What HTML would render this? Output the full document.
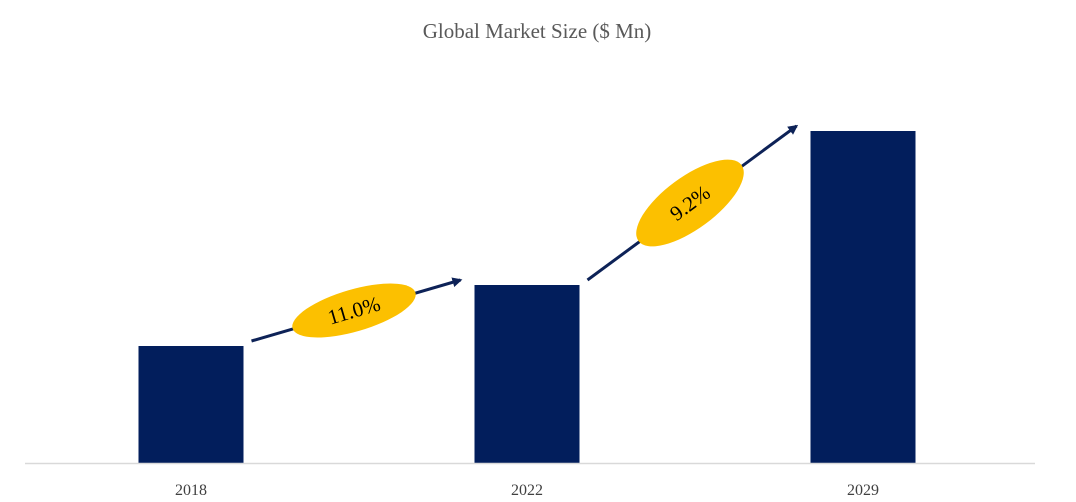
<!DOCTYPE html>
<html><head><meta charset="utf-8"><style>
body{margin:0;background:#fff;width:1076px;height:502px;overflow:hidden}
svg{display:block}
</style></head><body>
<svg width="1076" height="502">
<defs><marker id="ah" markerWidth="10" markerHeight="10" refX="8" refY="5" orient="auto" markerUnits="userSpaceOnUse"><path d="M0,0 L10,5 L0,10 z" fill="#0d2257"/></marker></defs>
<text x="537" y="38" text-anchor="middle" font-family="Liberation Serif, serif" font-size="21" fill="#595959">Global Market Size ($ Mn)</text>
<g id="bars"></g>
<line x1="25" y1="463.5" x2="1035" y2="463.5" stroke="#d9d9d9" stroke-width="1.5"/>
<g id="cagr"></g>
</svg>
<script>
const categories=["2018","2022","2029"];
const values=[117,178,332];
const cagrLabels=["11.0%","9.2%"];
const svg=document.querySelector('svg');
const NS="http://www.w3.org/2000/svg";
const baseY=463, plotLeft=25, slotW=336, barW=105;
function xCenter(i){return plotLeft+slotW*i+slotW/2-2;}
function yScale(v){return baseY-v*1.0;}
const gb=document.getElementById('bars');
categories.forEach((c,i)=>{
  const r=document.createElementNS(NS,'rect');
  r.setAttribute('x',xCenter(i)-barW/2);r.setAttribute('y',yScale(values[i]));
  r.setAttribute('width',barW);r.setAttribute('height',baseY-yScale(values[i]));
  r.setAttribute('fill','#021e5c');
  
  
  gb.appendChild(r);
  const t=document.createElementNS(NS,'text');
  t.setAttribute('x',xCenter(i));t.setAttribute('y',495);t.setAttribute('text-anchor','middle');
  t.setAttribute('font-family','Liberation Serif, serif');t.setAttribute('font-size','16');t.setAttribute('fill','#404040');
  t.textContent=c;
  
  
  gb.appendChild(t);
});
const gc=document.getElementById('cagr');
for(let i=0;i<categories.length-1;i++){
  const x1=xCenter(i)+barW/2+8, y1=yScale(values[i])-5;
  const x2=xCenter(i+1)-barW/2-14, y2=yScale(values[i+1])-5;
  const l=document.createElementNS(NS,'line');
  l.setAttribute('x1',x1);l.setAttribute('y1',y1);l.setAttribute('x2',x2);l.setAttribute('y2',y2);
  l.setAttribute('stroke','#0d2257');l.setAttribute('stroke-width','3');l.setAttribute('marker-end','url(#ah)');
  
  
  gc.appendChild(l);
  const cx=(x1+x2)/2-2, cy=(y1+y2)/2;
  const ang=Math.atan2(y2-y1,x2-x1)*180/Math.PI;
  const g=document.createElementNS(NS,'g');
  g.setAttribute('transform','translate('+cx+','+cy+') rotate('+ang+')');
  
  
  const e=document.createElementNS(NS,'ellipse');
  e.setAttribute('rx',i==0?64:64);e.setAttribute('ry',i==0?21:26);e.setAttribute('fill','#fcc000');
  
  
  g.appendChild(e);
  const t=document.createElementNS(NS,'text');
  t.setAttribute('y',7);t.setAttribute('text-anchor','middle');
  t.setAttribute('font-family','Liberation Serif, serif');t.setAttribute('font-size','21');t.setAttribute('fill','#000');
  t.textContent=cagrLabels[i];
  
  
  g.appendChild(t);
  gc.appendChild(g);
}
</script>
</body></html>
